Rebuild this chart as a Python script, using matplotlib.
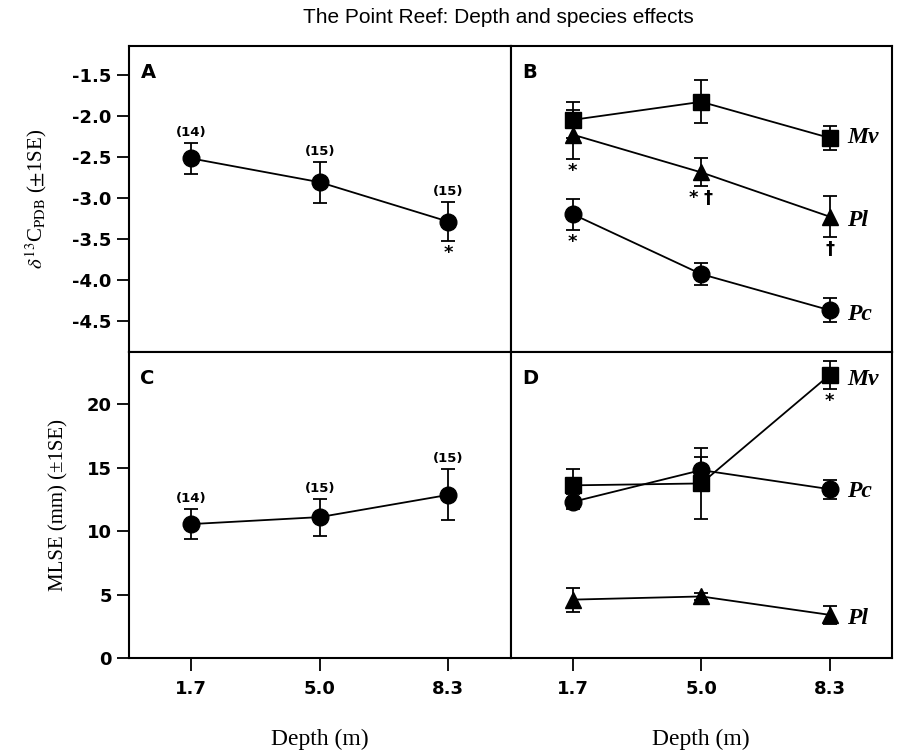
import matplotlib
matplotlib.use('Agg')
import matplotlib.pyplot as plt

plt.rcParams['font.family'] = ['DejaVu Sans']
plt.rcParams['mathtext.fontset'] = 'stix'

# depths (m)
depth = [1.7, 5.0, 8.3]
n_counts = ['(14)', '(15)', '(15)']

# panel A: d13C all species pooled
a_mean = [-2.52, -2.81, -3.29]
a_se = [0.19, 0.25, 0.24]

# panel B: d13C per species
b_mv = [-2.05, -1.83, -2.27]
b_mv_se = [0.22, 0.26, 0.15]
b_pl = [-2.23, -2.69, -3.23]
b_pl_se = [0.30, 0.17, 0.25]
b_pc = [-3.20, -3.93, -4.37]
b_pc_se = [0.19, 0.13, 0.15]

# panel C: MLSE pooled
c_mean = [10.55, 11.1, 12.85]
c_se = [1.15, 1.45, 2.0]

# panel D: MLSE per species
d_mv = [13.6, 13.75, 22.3]
d_mv_se = [1.3, 2.8, 1.1]
d_pc = [12.3, 14.8, 13.3]
d_pc_se = [0.6, 1.0, 0.75]
d_pl = [4.6, 4.85, 3.4]
d_pl_se = [0.95, 0.3, 0.7]

fig, axes = plt.subplots(2, 2, figsize=(8.98, 7.51), dpi=100)
plt.subplots_adjust(left=0.1437, right=0.9933, top=0.9387, bottom=0.1238,
                    wspace=0, hspace=0)
axA, axB = axes[0]
axC, axD = axes[1]

ekw = dict(color='black', linewidth=1.3, elinewidth=1.3, capsize=5,
           capthick=1.3, markeredgecolor='black', markerfacecolor='black')


def series(ax, y, se, marker, ms):
    ax.errorbar(depth, y, yerr=se, marker=marker, markersize=ms, **ekw)


def below(ax, x, y, se, txt, dx=0):
    ax.annotate(txt, (x, y - se), xytext=(dx, -2), textcoords='offset points',
                ha='center', va='top', fontsize=13, fontweight='bold')


# A
series(axA, a_mean, a_se, 'o', 12)
for x, y, s, n in zip(depth, a_mean, a_se, n_counts):
    axA.annotate(n, (x, y + s), xytext=(0, 3), textcoords='offset points',
                 ha='center', va='bottom', fontsize=9.5, fontweight='bold')
below(axA, depth[2], a_mean[2], a_se[2], '*')

# B
series(axB, b_mv, b_mv_se, 's', 11)
series(axB, b_pl, b_pl_se, '^', 11)
series(axB, b_pc, b_pc_se, 'o', 12)
below(axB, depth[0], b_pl[0], b_pl_se[0], '*')
below(axB, depth[1], b_pl[1], b_pl_se[1], '*', dx=-6)
below(axB, depth[1], b_pl[1], b_pl_se[1], '\u2020', dx=5)
below(axB, depth[2], b_pl[2], b_pl_se[2], '\u2020')
below(axB, depth[0], b_pc[0], b_pc_se[0], '*')

# C
series(axC, c_mean, c_se, 'o', 12)
for x, y, s, n in zip(depth, c_mean, c_se, n_counts):
    axC.annotate(n, (x, y + s), xytext=(0, 3), textcoords='offset points',
                 ha='center', va='bottom', fontsize=9.5, fontweight='bold')

# D
series(axD, d_mv, d_mv_se, 's', 11)
series(axD, d_pc, d_pc_se, 'o', 12)
series(axD, d_pl, d_pl_se, '^', 11)
below(axD, depth[2], d_mv[2], d_mv_se[2], '*')

# species names
lab = dict(fontsize=17, fontstyle='italic', fontweight='bold',
           family='Liberation Serif', va='center', ha='left')
axB.text(8.75, b_mv[2], 'Mv', **lab)
axB.text(8.75, b_pl[2] - 0.05, 'Pl', **lab)
axB.text(8.75, b_pc[2] - 0.05, 'Pc', **lab)
axD.text(8.75, d_mv[2] - 0.4, 'Mv', **lab)
axD.text(8.75, d_pc[2] - 0.2, 'Pc', **lab)
axD.text(8.75, d_pl[2] - 0.25, 'Pl', **lab)

for ax, letter in zip([axA, axB, axC, axD], 'ABCD'):
    ax.set_xlim(0.1, 9.9)
    ax.text(0.03, 0.915, letter, transform=ax.transAxes, fontsize=14,
            fontweight='bold', va='center', ha='left')
    for sp in ax.spines.values():
        sp.set_linewidth(1.5)
    ax.tick_params(direction='out', length=9, width=1.3, labelsize=13)

for ax in [axA, axB]:
    ax.set_ylim(-4.88, -1.15)
for ax in [axC, axD]:
    ax.set_ylim(0, 24.1)

axA.set_yticks([-1.5, -2.0, -2.5, -3.0, -3.5, -4.0, -4.5])
axA.set_yticklabels(['-1.5', '-2.0', '-2.5', '-3.0', '-3.5', '-4.0', '-4.5'],
                    fontweight='bold')
axC.set_yticks([0, 5, 10, 15, 20])
axC.set_yticklabels(['0', '5', '10', '15', '20'], fontweight='bold')
for ax in [axC, axD]:
    ax.set_xticks(depth)
    ax.set_xticklabels(['1.7', '5.0', '8.3'], fontweight='bold')
    ax.tick_params(axis='x', pad=7)
    ax.set_xlabel('Depth (m)', family='Liberation Serif', fontsize=17,
                  labelpad=22)
for ax in [axA, axB]:
    ax.set_xticks([])
for ax in [axB, axD]:
    ax.set_yticks([])

axA.set_ylabel(r'$\delta^{13}$C$_{\mathrm{PDB}}$ ($\pm$1SE)',
               family='Liberation Serif', fontsize=15, labelpad=17)
axC.set_ylabel('MLSE (mm) (\u00b11SE)', family='Liberation Serif',
               fontsize=15, labelpad=13)

fig.suptitle('The Point Reef: Depth and species effects', x=0.555, y=0.99,
             fontsize=15, family='Liberation Sans', va='top')

plt.savefig('out.png', dpi=100)
